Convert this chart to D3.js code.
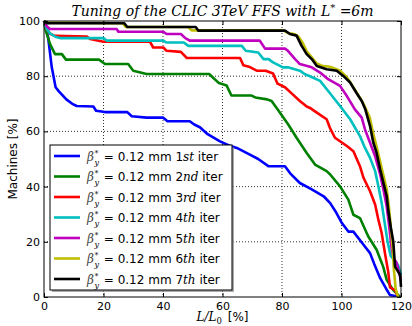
<!DOCTYPE html>
<html lang="en">
  <head>
    <meta charset="utf-8">
    <title>CLIC 3TeV FFS tuning</title>
    <style>
      body { margin: 0; background: #fff; }
    </style>
  </head>
  <body>
    <div id="chart"></div>

    <script src="https://cdn.jsdelivr.net/npm/d3@7"></script>
    <script>

    // [L/L0 %, machines %]
    var iter1 = [[0,100],[1.4,94],[2.6,83.3],[3.9,76],[5,74.5],[7.6,71.5],[9.5,70],[11,69.2],[16.6,69],[17.5,67.5],[20.5,67],[28,67],[29.5,65.5],[34.5,65],[40,65],[41.5,63.7],[49,63.7],[50.5,62.5],[52.4,61.5],[55,59],[59,56.5],[62,55],[64.8,54],[69.2,51.6],[72,50],[75.4,47.4],[81,47.4],[83,44.5],[86,41.3],[90,39],[94,36.5],[96.2,34],[98,31],[100,27],[102.3,23.7],[104,23.7],[107.4,18.9],[109.6,15.9],[111,12],[113,6.8],[115,3],[116.3,0.7],[119.7,0]];
    var iter2 = [[0,100],[0.5,97],[2,91.7],[3.7,88],[6,88],[7.4,86],[18.5,86],[20.5,84.4],[28.3,84.4],[30,82],[34.5,80.8],[55.5,80.8],[58.8,77.5],[61.4,76.6],[63,73],[69.8,73],[71,72.3],[75,71.6],[76.5,71],[78.5,68],[82.1,62.5],[84.9,57.7],[88.3,52.2],[91.1,48],[95,45.6],[96.2,44.4],[99.5,40.1],[102.3,35.3],[104,29.8],[106.2,28.6],[109,21.9],[111.8,17.1],[114,11],[115.2,6.2],[117.4,2.5],[119.7,0]];
    var iter3 = [[0,100],[1,97],[2,95.4],[3.7,94.6],[14.4,94.4],[15.5,93.5],[20,92.5],[35.6,92.5],[36.7,90.4],[40.1,90.4],[41.2,89.2],[46,88.8],[48,86.6],[65.9,86.6],[67,84],[69.2,83.3],[71.5,82],[74.5,82],[77,81],[78.5,77.3],[81,76],[83.5,73.5],[86,71],[88.3,69],[89.4,68.5],[91.7,66.8],[95,64.4],[96.1,61.3],[97.8,57.7],[101.8,54.7],[104,52.8],[106.2,47.4],[107.4,43.2],[109.6,38.3],[111.3,33.5],[112.4,28],[113.5,23.2],[114.6,15.9],[115.7,9.2],[116.3,3.5],[118,2.5],[119.1,0]];
    var iter4 = [[0,100],[1,97],[2,95.5],[4,94.2],[5.4,93.8],[20,93.8],[21,92.9],[40.1,92.9],[41.2,92.2],[47,92.2],[48.5,91],[66.5,91],[67.8,89.2],[72,88.6],[73.8,86.2],[75.5,86.2],[77,85],[80.3,83.2],[82,83.2],[86,82],[87.7,80.7],[89.4,80],[92.8,78.3],[96,74],[99.5,69.2],[102.9,64.4],[106.2,58.3],[107.9,54],[109.6,50.4],[111.3,45.6],[112.4,40.1],[113.5,34.1],[114.5,27],[115.5,20],[116.5,15],[118,13],[119,11.6],[120,8]];
    var iter5 = [[0,100],[1,98],[2,97.1],[24.4,97.1],[25,96.1],[40.1,96.1],[41.2,95.3],[46,95.3],[47.5,93.8],[49,92.9],[72.5,92.9],[74.3,90],[81,90],[82,89.2],[84.4,86.2],[86,84.4],[90,83.2],[92.8,81.3],[95.5,78.9],[99.5,76.5],[101.8,72.8],[104.5,68],[106.8,65],[107.9,60.7],[109.6,55.9],[111.3,51],[113,44.4],[114.1,38.9],[115.2,32.8],[116,26],[116.8,18],[117.5,14],[118.5,12.5],[120,6]];
    var iter6 = [[0,100],[1,99.4],[26.5,99.2],[27.5,97.8],[48.5,97.8],[49.6,96.6],[80.4,96.6],[82.1,95.6],[84.4,95.2],[85.5,94.4],[87,92],[88.3,89],[90,86.8],[91.7,84.6],[93.4,83.8],[96.1,83.4],[99.5,82],[101.8,79.6],[103.4,77],[105.7,73],[107.4,70],[109.5,65],[110.7,59],[111.8,54.5],[113,49],[114.1,44],[115.2,39],[115.9,33],[116.5,26],[117.2,18],[117.6,10],[118.2,3],[119,0]];
    var iter7 = [[0,100],[1,99.2],[27,99.2],[28,97.8],[51,97.8],[51.9,96.5],[81,96.5],[82.7,95.3],[84.9,94.7],[86.6,91],[88.3,88],[90,86.2],[91.7,83.7],[95,82.5],[98.4,82],[100.6,80.1],[102.9,77.7],[105,74],[106.8,71],[108,68],[109.6,61.9],[110.7,55.9],[111.8,52.2],[113,46.2],[114.1,41.3],[115.2,36.5],[115.7,31.6],[116.6,25],[117.4,20.1],[118,11],[119.7,8],[120,3.7]];

    var series = [iter1, iter2, iter3, iter4, iter5, iter6, iter7];
    var ordinals = [["1", "st"], ["2", "nd"], ["3", "rd"], ["4", "th"], ["5", "th"], ["6", "th"], ["7", "th"]];
    var colors = ["#0000ff", "#008000", "#ff0000", "#00bfbf", "#bf00bf", "#bfbf00", "#000000"];
    var xTicks = [0, 20, 40, 60, 80, 100, 120];
    var yTicks = [0, 20, 40, 60, 80, 100];

    var W = 412, H = 326;
    var margin = {top: 21, right: 11, bottom: 29, left: 44},
      width = W - margin.left - margin.right,
      height = H - margin.top - margin.bottom;

    var svg = d3.select("#chart")
      .append("svg")
        .attr("width", W)
        .attr("height", H)
        .style("font-family", "DejaVu Sans, sans-serif");

    var g = svg.append("g")
        .attr("transform", "translate(" + margin.left + "," + margin.top + ")");

    var x = d3.scaleLinear().domain([0, 120]).range([0, width]);
    var y = d3.scaleLinear().domain([0, 100]).range([height, 0]);

    // dotted grid
    g.selectAll(".gx").data(xTicks.slice(1, -1)).enter().append("line")
        .attr("x1", d => x(d)).attr("x2", d => x(d))
        .attr("y1", 0).attr("y2", height)
        .attr("stroke", "#000").attr("stroke-width", 0.8)
        .attr("stroke-dasharray", "1,2");
    g.selectAll(".gy").data(yTicks.slice(1, -1)).enter().append("line")
        .attr("x1", 0).attr("x2", width)
        .attr("y1", d => y(d)).attr("y2", d => y(d))
        .attr("stroke", "#000").attr("stroke-width", 0.8)
        .attr("stroke-dasharray", "1,2");

    g.append("clipPath").attr("id", "clip")
      .append("rect").attr("x", -2).attr("y", -2).attr("width", width + 4).attr("height", height + 2);

    var line = d3.line().x(d => x(d[0])).y(d => y(d[1]));

    g.append("g").attr("clip-path", "url(#clip)")
      .selectAll("path").data(series).enter().append("path")
        .attr("d", line)
        .attr("fill", "none")
        .attr("stroke", (d, i) => colors[i])
        .attr("stroke-width", 2.6)
        .attr("stroke-linejoin", "round");

    // axes, ticks pointing inwards as in classic matplotlib
    var tickSize = 4;
    g.append("g").attr("transform", "translate(0," + height + ")")
      .call(d3.axisBottom(x).tickValues(xTicks).tickSizeInner(-tickSize).tickSizeOuter(0).tickPadding(5))
      .call(a => a.select(".domain").remove());
    g.append("g")
      .call(d3.axisTop(x).tickValues(xTicks).tickSizeInner(-tickSize).tickSizeOuter(0).tickFormat(""))
      .call(a => a.select(".domain").remove());
    g.append("g")
      .call(d3.axisLeft(y).tickValues(yTicks).tickSizeInner(-tickSize).tickSizeOuter(0).tickPadding(4))
      .call(a => a.select(".domain").remove());
    g.append("g").attr("transform", "translate(" + width + ",0)")
      .call(d3.axisRight(y).tickValues(yTicks).tickSizeInner(-tickSize).tickSizeOuter(0).tickFormat(""))
      .call(a => a.select(".domain").remove());
    g.selectAll(".tick text").attr("font-size", "11px").attr("fill", "#000")
      .style("font-family", "DejaVu Sans, sans-serif");

    g.append("rect")
        .attr("width", width).attr("height", height)
        .attr("fill", "none").attr("stroke", "#000").attr("stroke-width", 1);

    // title
    var title = svg.append("text")
        .attr("x", margin.left + width / 2).attr("y", 16)
        .attr("text-anchor", "middle")
        .attr("font-family", "DejaVu Serif, serif")
        .attr("font-style", "italic")
        .attr("font-size", "14px");
    title.append("tspan").text("Tuning of the CLIC 3TeV FFS with L");
    title.append("tspan").attr("dy", -5).attr("font-size", "10px").text("*");
    title.append("tspan").attr("dy", 5).text(" =6m");

    // axis labels
    svg.append("text")
        .attr("transform", "translate(17," + (margin.top + height / 2) + ") rotate(-90)")
        .attr("text-anchor", "middle")
        .attr("font-size", "12px")
        .text("Machines [%]");

    var xl = svg.append("text")
        .attr("x", margin.left + width / 2).attr("y", 321)
        .attr("text-anchor", "middle")
        .attr("font-size", "12px");
    xl.append("tspan").attr("font-family", "DejaVu Serif, serif").attr("font-style", "italic").text("L/L");
    xl.append("tspan").attr("font-family", "DejaVu Serif, serif").attr("font-size", "8.5px").attr("dy", 2.5).text("0");
    xl.append("tspan").attr("dy", -2.5).attr("dx", 2).text(" [%]");

    // legend with shadow
    var lg = svg.append("g").attr("transform", "translate(50,145)");
    var lw = 182, lh = 145;
    lg.append("rect").attr("x", 2).attr("y", 2).attr("width", lw).attr("height", lh)
        .attr("fill", "#888").attr("opacity", 0.7);
    lg.append("rect").attr("width", lw).attr("height", lh)
        .attr("fill", "#fff").attr("stroke", "#000").attr("stroke-width", 1);

    var rows = lg.selectAll(".row").data(series).enter().append("g")
        .attr("transform", (d, i) => "translate(0," + (11 + i * 20.5) + ")");
    rows.append("line")
        .attr("x1", 4).attr("x2", 30)
        .attr("stroke", (d, i) => colors[i])
        .attr("stroke-width", 2.6);
    var lt = rows.append("text")
        .attr("x", 37).attr("y", 4.5)
        .attr("font-size", "12px");
    lt.append("tspan").attr("font-family", "DejaVu Serif, serif").attr("font-style", "italic").attr("fill", "#444").text("β");
    lt.append("tspan").attr("font-family", "DejaVu Serif, serif").attr("font-size", "8px").attr("dy", -5).attr("dx", 0.5).text("*");
    lt.append("tspan").attr("font-family", "DejaVu Serif, serif").attr("font-style", "italic").attr("font-size", "8px").attr("dy", 9).attr("dx", -4).text("y");
    lt.append("tspan").attr("dy", -4).attr("dx", 1).text(" = 0.12 mm ");
    lt.append("tspan").text((d, i) => ordinals[i][0]);
    lt.append("tspan").attr("font-family", "DejaVu Serif, serif").attr("font-style", "italic").text((d, i) => ordinals[i][1]);
    lt.append("tspan").text(" iter");

    </script>
  </body>
</html>
